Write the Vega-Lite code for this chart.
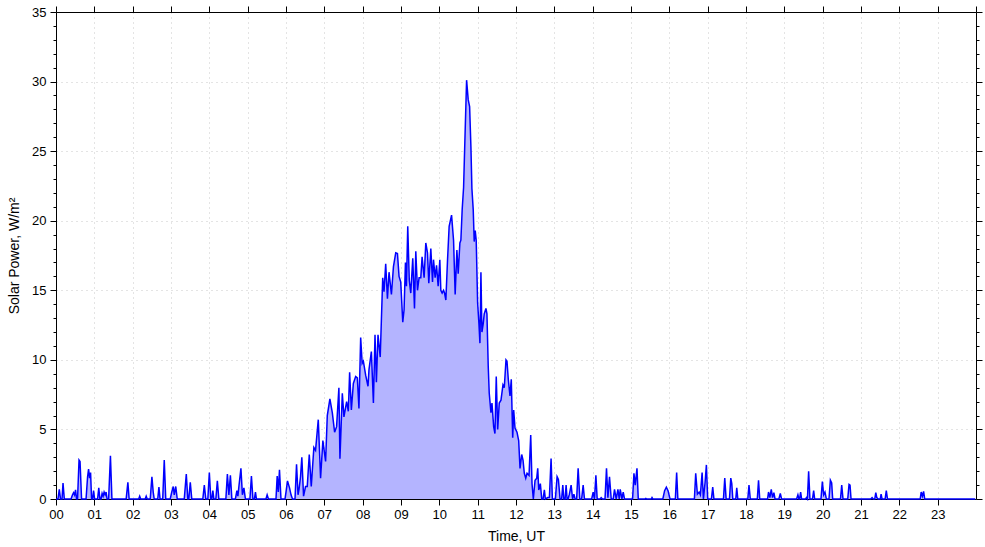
{
  "$schema": "https://vega.github.io/schema/vega-lite/v6.json",
  "width": 920,
  "height": 487,
  "autosize": {"type": "none"},
  "padding": {"left": 56, "top": 12, "right": 9, "bottom": 48},
  "background": "white",
  "config": {
    "view": {"stroke": null},
    "axis": {
      "labelFont": "Liberation Sans",
      "titleFont": "Liberation Sans",
      "labelFontSize": 13,
      "titleFontSize": 14,
      "titleFontWeight": "normal",
      "labelColor": "#000000",
      "titleColor": "#000000",
      "domainColor": "#000000",
      "tickColor": "#000000",
      "gridColor": "#c8c8c8",
      "gridDash": [1, 4],
      "labelOverlap": false,
      "labelFlush": false
    }
  },
  "data": {
    "values": [
      {"h":0,"v":0},{"h":0.052,"v":0},{"h":0.086,"v":0.7},{"h":0.118,"v":0},{"h":0.157,"v":0},{"h":0.183,"v":1.15},{"h":0.217,"v":0},
      {"h":0.392,"v":0},{"h":0.431,"v":0.3},{"h":0.458,"v":0.45},{"h":0.484,"v":0.3},{"h":0.51,"v":0.65},{"h":0.536,"v":0},{"h":0.562,"v":0},
      {"h":0.601,"v":2.8},{"h":0.627,"v":2.7},{"h":0.667,"v":0},{"h":0.784,"v":0},{"h":0.824,"v":1.6},{"h":0.85,"v":2.15},{"h":0.876,"v":1.5},
      {"h":0.902,"v":1.9},{"h":0.928,"v":0},{"h":0.954,"v":0},{"h":0.98,"v":0.6},{"h":1.007,"v":0},{"h":1.085,"v":0},{"h":1.116,"v":0.8},
      {"h":1.145,"v":0},{"h":1.176,"v":0},{"h":1.203,"v":0.4},{"h":1.229,"v":0.2},{"h":1.255,"v":0.5},{"h":1.281,"v":0.3},{"h":1.307,"v":0.5},
      {"h":1.333,"v":0},{"h":1.373,"v":0},{"h":1.42,"v":3.1},{"h":1.459,"v":0},{"h":1.83,"v":0},{"h":1.875,"v":1.2},{"h":1.908,"v":0},
      {"h":2.157,"v":0},{"h":2.183,"v":0.2},{"h":2.209,"v":0},{"h":2.327,"v":0},{"h":2.353,"v":0.2},{"h":2.379,"v":0},{"h":2.458,"v":0},
      {"h":2.502,"v":1.6},{"h":2.536,"v":0.5},{"h":2.562,"v":0},{"h":2.654,"v":0},{"h":2.685,"v":0.85},{"h":2.714,"v":0},{"h":2.784,"v":0},
      {"h":2.824,"v":2.8},{"h":2.863,"v":0},{"h":2.98,"v":0},{"h":3.02,"v":0.5},{"h":3.059,"v":0.9},{"h":3.085,"v":0.3},{"h":3.124,"v":0.9},
      {"h":3.163,"v":0},{"h":3.346,"v":0},{"h":3.399,"v":1.8},{"h":3.438,"v":0},{"h":3.464,"v":0},{"h":3.503,"v":1.2},{"h":3.542,"v":0},
      {"h":3.83,"v":0},{"h":3.869,"v":1.0},{"h":3.908,"v":0},{"h":3.961,"v":0},{"h":4.0,"v":1.9},{"h":4.039,"v":0},{"h":4.065,"v":0},
      {"h":4.092,"v":0.6},{"h":4.118,"v":0},{"h":4.17,"v":0},{"h":4.209,"v":1.3},{"h":4.248,"v":0},{"h":4.431,"v":0},{"h":4.471,"v":1.8},
      {"h":4.51,"v":0.3},{"h":4.549,"v":1.7},{"h":4.588,"v":0},{"h":4.68,"v":0},{"h":4.719,"v":0.6},{"h":4.745,"v":0.2},{"h":4.771,"v":0.9},
      {"h":4.824,"v":2.2},{"h":4.863,"v":0.3},{"h":4.902,"v":0.8},{"h":4.941,"v":0},{"h":5.059,"v":0},{"h":5.098,"v":1.65},{"h":5.137,"v":0},
      {"h":5.176,"v":0},{"h":5.203,"v":0.5},{"h":5.229,"v":0},{"h":5.477,"v":0},{"h":5.508,"v":0.3},{"h":5.542,"v":0},{"h":5.739,"v":0},
      {"h":5.77,"v":1.65},{"h":5.799,"v":0.5},{"h":5.83,"v":2.1},{"h":5.869,"v":0},{"h":5.974,"v":0},{"h":6.0,"v":0.5},{"h":6.039,"v":1.3},
      {"h":6.092,"v":0.8},{"h":6.131,"v":0.3},{"h":6.17,"v":0},{"h":6.235,"v":0},{"h":6.275,"v":2.5},{"h":6.314,"v":0.3},{"h":6.34,"v":0.7},
      {"h":6.379,"v":1.6},{"h":6.413,"v":3.0},{"h":6.458,"v":0.2},{"h":6.51,"v":0.9},{"h":6.554,"v":0.9},{"h":6.607,"v":3.2},{"h":6.659,"v":0.9},
      {"h":6.727,"v":3.7},{"h":6.771,"v":3.5},{"h":6.842,"v":5.7},{"h":6.902,"v":1.5},{"h":6.962,"v":4.2},{"h":7.033,"v":2.7},{"h":7.077,"v":6.0},
      {"h":7.145,"v":7.2},{"h":7.208,"v":6.2},{"h":7.268,"v":4.8},{"h":7.32,"v":5.2},{"h":7.38,"v":8.0},{"h":7.407,"v":2.9},{"h":7.469,"v":7.6},
      {"h":7.511,"v":5.9},{"h":7.582,"v":7.0},{"h":7.626,"v":6.3},{"h":7.66,"v":9.1},{"h":7.705,"v":6.4},{"h":7.757,"v":8.3},{"h":7.817,"v":8.8},
      {"h":7.861,"v":8.7},{"h":7.903,"v":6.5},{"h":7.948,"v":11.6},{"h":7.987,"v":9.75},{"h":8.018,"v":9.9},{"h":8.078,"v":8.9},{"h":8.139,"v":8.1},
      {"h":8.165,"v":9.3},{"h":8.227,"v":10.6},{"h":8.28,"v":6.9},{"h":8.322,"v":11.8},{"h":8.358,"v":8.4},{"h":8.4,"v":11.8},{"h":8.458,"v":10.2},
      {"h":8.523,"v":15.9},{"h":8.557,"v":14.9},{"h":8.601,"v":16.9},{"h":8.646,"v":14.4},{"h":8.688,"v":16.3},{"h":8.75,"v":14.7},{"h":8.803,"v":16.7},
      {"h":8.863,"v":17.7},{"h":8.907,"v":17.65},{"h":8.949,"v":16.0},{"h":8.993,"v":15.6},{"h":9.046,"v":12.7},{"h":9.08,"v":13.6},{"h":9.116,"v":17.0},
      {"h":9.142,"v":15.3},{"h":9.176,"v":19.6},{"h":9.216,"v":15.7},{"h":9.255,"v":14.8},{"h":9.307,"v":17.3},{"h":9.352,"v":13.7},{"h":9.386,"v":17.8},
      {"h":9.43,"v":15.0},{"h":9.472,"v":15.9},{"h":9.516,"v":15.9},{"h":9.55,"v":17.4},{"h":9.603,"v":15.9},{"h":9.647,"v":18.4},{"h":9.691,"v":17.7},
      {"h":9.725,"v":15.5},{"h":9.778,"v":18.0},{"h":9.822,"v":15.6},{"h":9.848,"v":17.2},{"h":9.89,"v":15.9},{"h":9.927,"v":16.8},{"h":9.969,"v":15.3},
      {"h":10.013,"v":17.2},{"h":10.039,"v":15.0},{"h":10.073,"v":14.8},{"h":10.11,"v":15.0},{"h":10.136,"v":14.8},{"h":10.17,"v":14.3},{"h":10.214,"v":17.2},
      {"h":10.256,"v":19.6},{"h":10.319,"v":20.4},{"h":10.371,"v":18.6},{"h":10.413,"v":14.7},{"h":10.458,"v":17.9},{"h":10.492,"v":16.2},{"h":10.536,"v":18.4},
      {"h":10.562,"v":18.6},{"h":10.596,"v":20.8},{"h":10.633,"v":22.4},{"h":10.667,"v":25.8},{"h":10.711,"v":30.1},{"h":10.753,"v":28.7},{"h":10.79,"v":28.2},
      {"h":10.824,"v":25.3},{"h":10.85,"v":22.3},{"h":10.884,"v":20.8},{"h":10.91,"v":18.5},{"h":10.936,"v":19.3},{"h":10.962,"v":18.6},{"h":10.999,"v":14.1},
      {"h":11.033,"v":12.6},{"h":11.059,"v":11.2},{"h":11.085,"v":16.3},{"h":11.111,"v":12.0},{"h":11.145,"v":12.6},{"h":11.171,"v":13.3},{"h":11.216,"v":13.7},
      {"h":11.242,"v":13.3},{"h":11.276,"v":9.5},{"h":11.302,"v":7.6},{"h":11.346,"v":6.2},{"h":11.373,"v":6.9},{"h":11.417,"v":5.2},{"h":11.451,"v":4.7},
      {"h":11.485,"v":8.8},{"h":11.522,"v":5.0},{"h":11.563,"v":6.9},{"h":11.608,"v":7.1},{"h":11.66,"v":8.2},{"h":11.694,"v":8.0},{"h":11.739,"v":10.0},
      {"h":11.765,"v":9.9},{"h":11.799,"v":8.6},{"h":11.843,"v":7.4},{"h":11.877,"v":8.6},{"h":11.914,"v":4.4},{"h":11.94,"v":6.4},{"h":11.974,"v":5.1},
      {"h":12.026,"v":4.8},{"h":12.07,"v":4.2},{"h":12.105,"v":2.2},{"h":12.149,"v":3.2},{"h":12.183,"v":2.8},{"h":12.217,"v":1.85},{"h":12.254,"v":1.5},
      {"h":12.288,"v":1.85},{"h":12.34,"v":1.7},{"h":12.384,"v":4.6},{"h":12.418,"v":1.1},{"h":12.452,"v":0},{"h":12.497,"v":1.35},{"h":12.541,"v":1.5},
      {"h":12.567,"v":2.2},{"h":12.593,"v":0.65},{"h":12.635,"v":1.1},{"h":12.672,"v":0},{"h":12.706,"v":0},{"h":12.74,"v":0.65},{"h":12.766,"v":0},
      {"h":12.829,"v":0.1},{"h":12.871,"v":0.1},{"h":12.915,"v":2.9},{"h":12.949,"v":0},{"h":13.027,"v":0},{"h":13.072,"v":1.6},{"h":13.106,"v":1.4},
      {"h":13.15,"v":0},{"h":13.19,"v":0},{"h":13.221,"v":1.0},{"h":13.247,"v":0},{"h":13.281,"v":0},{"h":13.307,"v":1.0},{"h":13.333,"v":0},
      {"h":13.359,"v":0},{"h":13.393,"v":0.35},{"h":13.438,"v":1.0},{"h":13.477,"v":0},{"h":13.511,"v":0.35},{"h":13.542,"v":0},{"h":13.582,"v":0},
      {"h":13.621,"v":2.2},{"h":13.665,"v":0},{"h":13.712,"v":0},{"h":13.752,"v":1.0},{"h":13.786,"v":0},{"h":13.974,"v":0},{"h":14.013,"v":0.5},
      {"h":14.047,"v":0},{"h":14.084,"v":1.7},{"h":14.118,"v":0},{"h":14.196,"v":0},{"h":14.222,"v":0.1},{"h":14.256,"v":0},{"h":14.322,"v":0},
      {"h":14.361,"v":2.2},{"h":14.397,"v":0.1},{"h":14.439,"v":1.6},{"h":14.484,"v":0},{"h":14.536,"v":0},{"h":14.57,"v":0.7},{"h":14.614,"v":0},
      {"h":14.659,"v":0.7},{"h":14.693,"v":0},{"h":14.719,"v":0.7},{"h":14.763,"v":0},{"h":14.797,"v":0.5},{"h":14.831,"v":0},{"h":15.041,"v":0},
      {"h":15.077,"v":1.85},{"h":15.111,"v":1.0},{"h":15.156,"v":2.2},{"h":15.19,"v":0},{"h":15.359,"v":0},{"h":15.386,"v":0.05},{"h":15.412,"v":0},
      {"h":15.529,"v":0},{"h":15.548,"v":0.1},{"h":15.569,"v":0},{"h":15.83,"v":0},{"h":15.877,"v":0.6},{"h":15.922,"v":0.85},{"h":15.966,"v":0.6},
      {"h":16.018,"v":0},{"h":16.157,"v":0},{"h":16.191,"v":1.9},{"h":16.222,"v":0},{"h":16.654,"v":0},{"h":16.688,"v":1.85},{"h":16.732,"v":0.35},
      {"h":16.776,"v":0.5},{"h":16.81,"v":0.3},{"h":16.855,"v":1.9},{"h":16.889,"v":0},{"h":16.933,"v":1.2},{"h":16.967,"v":2.45},{"h":17.001,"v":0},
      {"h":17.098,"v":0},{"h":17.132,"v":0.85},{"h":17.163,"v":0},{"h":17.412,"v":0},{"h":17.446,"v":1.5},{"h":17.482,"v":0},{"h":17.569,"v":0},
      {"h":17.603,"v":1.5},{"h":17.629,"v":1.1},{"h":17.655,"v":0},{"h":17.733,"v":0},{"h":17.759,"v":0.8},{"h":17.786,"v":0},{"h":18.047,"v":0},
      {"h":18.078,"v":1.0},{"h":18.112,"v":0},{"h":18.295,"v":0},{"h":18.327,"v":1.35},{"h":18.358,"v":0},{"h":18.562,"v":0},{"h":18.588,"v":0.5},
      {"h":18.622,"v":0.1},{"h":18.659,"v":0.7},{"h":18.693,"v":0.1},{"h":18.727,"v":0.45},{"h":18.758,"v":0},{"h":18.858,"v":0},{"h":18.895,"v":0.4},
      {"h":18.928,"v":0},{"h":19.32,"v":0},{"h":19.354,"v":0.3},{"h":19.38,"v":0},{"h":19.399,"v":0},{"h":19.425,"v":0.5},{"h":19.451,"v":0},
      {"h":19.556,"v":0},{"h":19.577,"v":0.1},{"h":19.603,"v":0},{"h":19.634,"v":2.0},{"h":19.668,"v":0},{"h":19.734,"v":0},{"h":19.765,"v":0.6},
      {"h":19.791,"v":0},{"h":19.956,"v":0},{"h":19.992,"v":1.25},{"h":20.026,"v":0.3},{"h":20.06,"v":0.5},{"h":20.097,"v":0},{"h":20.165,"v":0},
      {"h":20.201,"v":1.35},{"h":20.235,"v":1.15},{"h":20.261,"v":0},{"h":20.465,"v":0},{"h":20.497,"v":1.0},{"h":20.531,"v":0},{"h":20.654,"v":0},
      {"h":20.688,"v":1.05},{"h":20.714,"v":1.0},{"h":20.74,"v":0},{"h":21.255,"v":0},{"h":21.289,"v":0.1},{"h":21.32,"v":0},{"h":21.359,"v":0},
      {"h":21.386,"v":0.45},{"h":21.412,"v":0.1},{"h":21.446,"v":0},{"h":21.503,"v":0},{"h":21.524,"v":0.35},{"h":21.55,"v":0},{"h":21.629,"v":0},
      {"h":21.66,"v":0.6},{"h":21.691,"v":0},{"h":22.544,"v":0},{"h":22.57,"v":0.5},{"h":22.601,"v":0.2},{"h":22.633,"v":0.55},{"h":22.662,"v":0},
      {"h":23.98,"v":0}
    ]
  },
  "resolve": {"axis": {"x": "independent", "y": "independent"}},
  "layer": [
    {
      "mark": {"type": "area", "color": "#b4b4ff", "opacity": 1},
      "encoding": {
        "x": {"field": "h", "type": "quantitative", "scale": {"domain": [0, 24], "nice": false, "zero": false},
          "axis": {"orient": "bottom", "values": [0,1,2,3,4,5,6,7,8,9,10,11,12,13,14,15,16,17,18,19,20,21,22,23],
            "labelExpr": "datum.value < 10 ? '0' + datum.value : '' + datum.value",
            "title": "Time, UT", "tickSize": 6, "labelPadding": 3, "titlePadding": 8, "grid": true}},
        "y": {"field": "v", "type": "quantitative", "scale": {"domain": [0, 35], "nice": false},
          "axis": {"orient": "left", "values": [0,5,10,15,20,25,30,35], "title": "Solar Power, W/m²",
            "tickSize": 6, "labelPadding": 4, "titlePadding": 10, "grid": true}}
      }
    },
    {
      "mark": {"type": "line", "color": "#0000ff", "strokeWidth": 1.5},
      "encoding": {
        "x": {"field": "h", "type": "quantitative",
          "axis": {"orient": "top", "values": [0,1,2,3,4,5,6,7,8,9,10,11,12,13,14,15,16,17,18,19,20,21,22,23,24],
            "labels": false, "title": null, "tickSize": 6, "grid": false}},
        "y": {"field": "v", "type": "quantitative",
          "axis": {"orient": "right", "values": [0,5,10,15,20,25,30,35], "labels": false, "title": null,
            "tickSize": 6, "grid": false}}
      }
    },
    {
      "mark": {"type": "line", "opacity": 0},
      "encoding": {
        "x": {"field": "h", "type": "quantitative", "axis": null},
        "y": {"field": "v", "type": "quantitative",
          "axis": {"orient": "left", "values": [1,2,3,4,6,7,8,9,11,12,13,14,16,17,18,19,21,22,23,24,26,27,28,29,31,32,33,34],
            "labels": false, "title": null, "domain": false, "tickSize": 3, "grid": false}}
      }
    },
    {
      "mark": {"type": "line", "opacity": 0},
      "encoding": {
        "x": {"field": "h", "type": "quantitative", "axis": null},
        "y": {"field": "v", "type": "quantitative",
          "axis": {"orient": "right", "values": [1,2,3,4,6,7,8,9,11,12,13,14,16,17,18,19,21,22,23,24,26,27,28,29,31,32,33,34],
            "labels": false, "title": null, "domain": false, "tickSize": 3, "grid": false}}
      }
    }
  ]
}
